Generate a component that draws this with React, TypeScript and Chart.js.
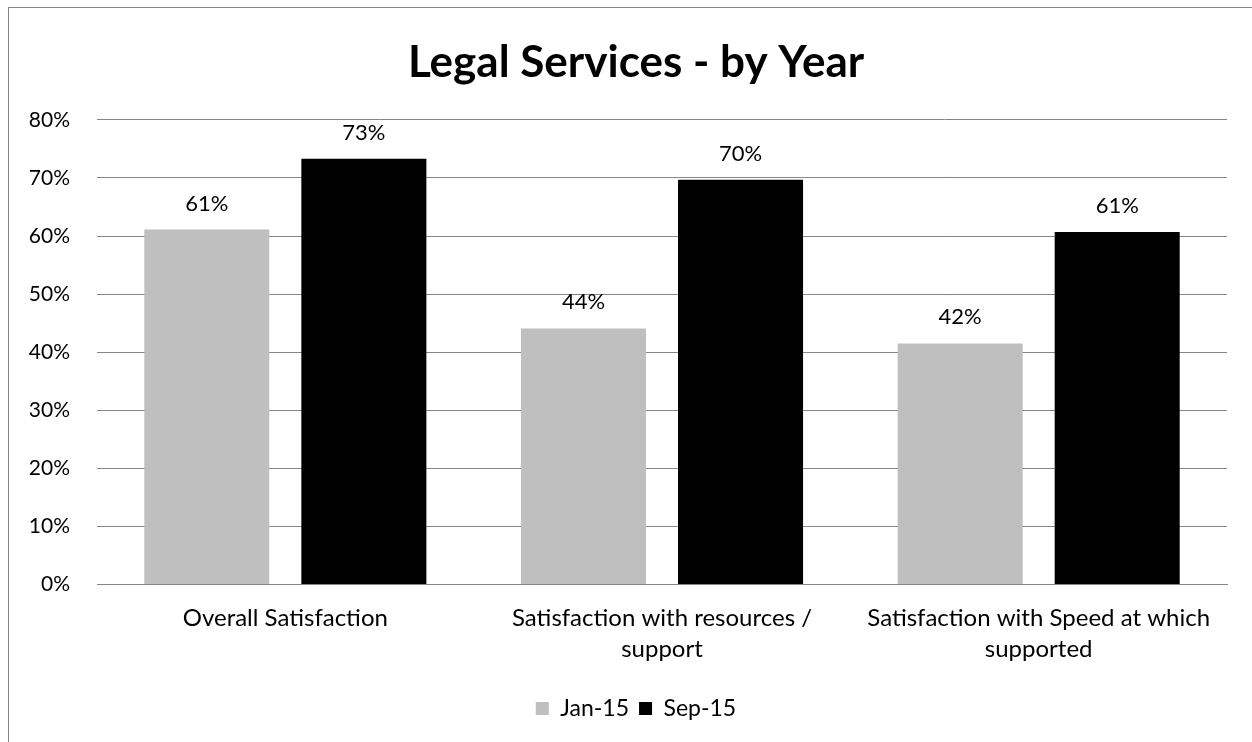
import React, { useEffect, useRef } from "react";
import { Chart, registerables } from "chart.js";

Chart.register(...registerables);

const categories: (string | string[])[] = [
  "Overall Satisfaction",
  ["Satisfaction with resources /", "support"],
  ["Satisfaction with Speed at which", "supported"],
];
const jan15 = [0.611, 0.441, 0.415];
const sep15 = [0.733, 0.697, 0.607];
const seriesNames = ["Jan-15", "Sep-15"];
const yTicks = [0, 0.1, 0.2, 0.3, 0.4, 0.5, 0.6, 0.7, 0.8];

const FONT = "Lato, 'Open Sans', sans-serif";

const valueLabels = {
  id: "valueLabels",
  afterDatasetsDraw(chart: any) {
    const ctx = chart.ctx;
    ctx.save();
    ctx.font = `22px ${FONT}`;
    ctx.fillStyle = "#000";
    ctx.textAlign = "center";
    ctx.textBaseline = "alphabetic";
    chart.data.datasets.forEach((ds: any, i: number) => {
      const meta = chart.getDatasetMeta(i);
      meta.data.forEach((bar: any, j: number) => {
        const v = ds.data[j];
        ctx.fillText(Math.round(v * 100) + "%", bar.x, bar.y - 19);
      });
    });
    ctx.restore();
  },
};

export default function App() {
  const ref = useRef<HTMLCanvasElement>(null);
  useEffect(() => {
    if (!ref.current) return;
    const chart = new Chart(ref.current, {
      type: "bar",
      data: {
        labels: categories,
        datasets: [
          {
            label: seriesNames[0],
            data: jan15,
            backgroundColor: "#bfbfbf",
            categoryPercentage: 0.834,
            barPercentage: 0.796,
          },
          {
            label: seriesNames[1],
            data: sep15,
            backgroundColor: "#000000",
            categoryPercentage: 0.834,
            barPercentage: 0.796,
          },
        ],
      },
      options: {
        responsive: false,
        animation: false,
        layout: { padding: { left: 0, right: 0, top: 0, bottom: 8 } },
        plugins: {
          title: {
            display: true,
            text: "Legal Services - by Year",
            color: "#000",
            font: { family: FONT, size: 44, weight: "bold", lineHeight: 1.2 },
            padding: { top: 28, bottom: 31 },
          },
          legend: {
            position: "bottom",
            labels: {
              color: "#000",
              font: { family: FONT, size: 23 },
              boxWidth: 13,
              boxHeight: 13,
              padding: 10,
            },
          },
          tooltip: { enabled: false },
        },
        scales: {
          x: {
            grid: { display: false, drawTicks: false },
            border: { display: true, color: "#868686" },
            ticks: {
              color: "#000",
              font: { family: FONT, size: 24, lineHeight: 1.3 },
              maxRotation: 0,
              padding: 18,
            },
            afterFit: (axis: any) => {
              axis.height += 4;
            },
          },
          y: {
            min: 0,
            max: 0.8,
            afterBuildTicks: (axis: any) => {
              axis.ticks = yTicks.map((v) => ({ value: v }));
            },
            afterFit: (axis: any) => {
              axis.width = 88;
            },
            grid: { color: "#868686", drawTicks: false },
            border: { display: false },
            ticks: {
              color: "#000",
              font: { family: FONT, size: 21 },
              padding: 27,
              callback: (v: any) => Math.round(Number(v) * 100) + "%",
            },
          },
          yRight: {
            position: "right",
            display: true,
            min: 0,
            max: 0.8,
            grid: { display: false, drawTicks: false },
            border: { display: false },
            ticks: { display: false },
            afterFit: (axis: any) => {
              axis.width = 36;
            },
          },
        },
      },
      plugins: [valueLabels],
    });
    return () => chart.destroy();
  }, []);

  return (
    <div style={{ position: "fixed", inset: 0, overflow: "hidden", background: "#fff" }}>
      <div
        style={{
          position: "absolute",
          left: 8,
          top: 7,
          width: 1254,
          height: 780,
          border: "1px solid #868686",
          background: "#fff",
        }}
      >
        <canvas ref={ref} width={1254} height={730} style={{ display: "block" }} />
      </div>
    </div>
  );
}
